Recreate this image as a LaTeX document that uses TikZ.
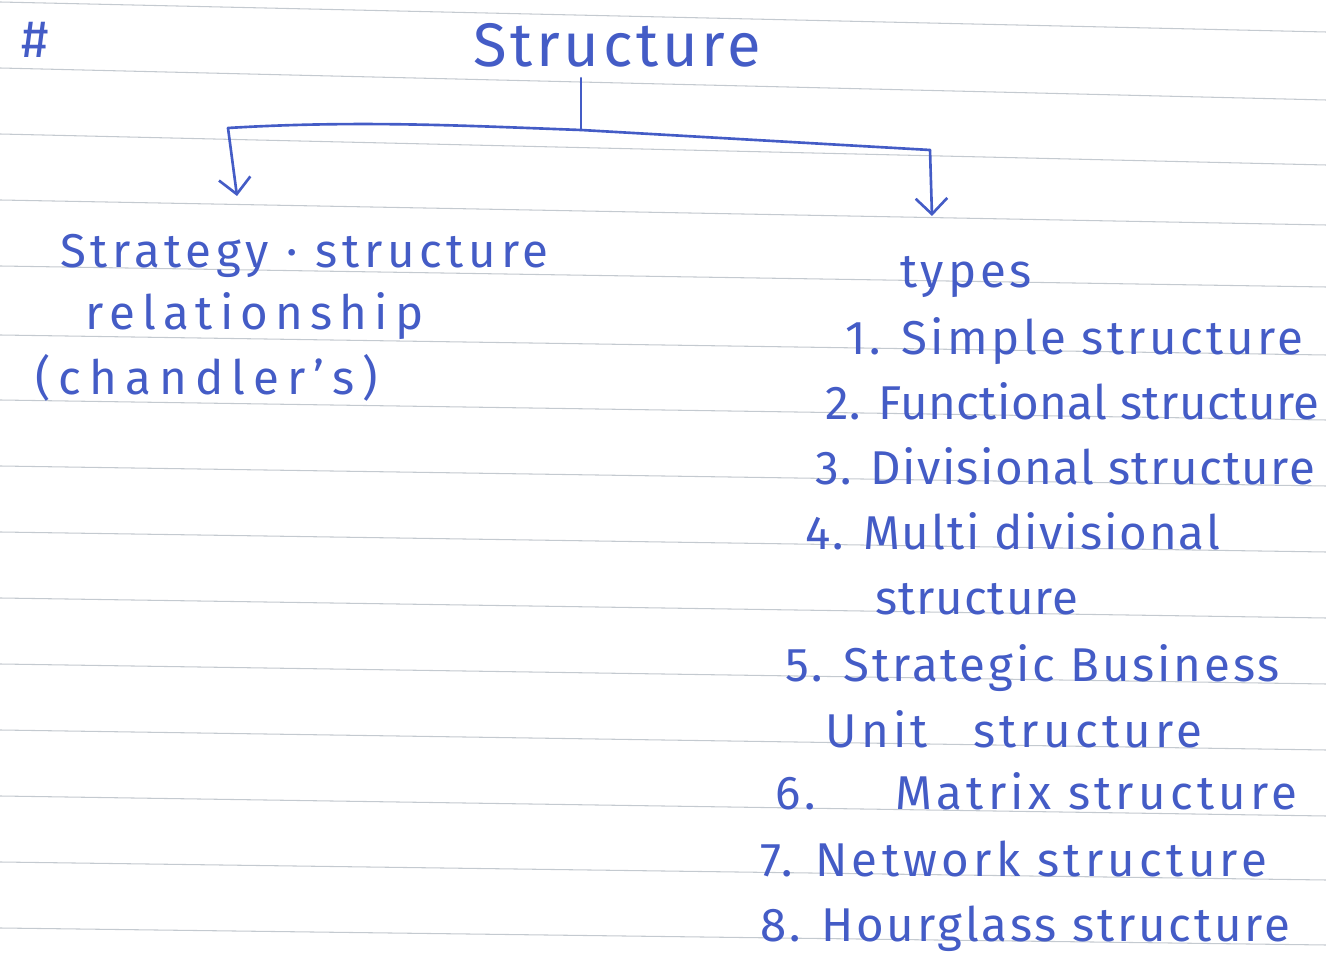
\documentclass[tikz,border=0pt]{standalone}
\usepackage{fontspec}
\setmainfont{Fira Sans}
\usepackage{xcolor}
\usetikzlibrary{arrows.meta}
\definecolor{ink}{RGB}{68,92,198}
\definecolor{ruling}{RGB}{196,202,208}
% handwriting is wider than the font: track each line a little
\newcommand{\jotsize}[1]{\fontsize{27}{32}\selectfont\addfontfeatures{LetterSpace=#1}}

\begin{document}
\begin{tikzpicture}[x=0.02cm,y=-0.02cm,
  rule/.style={ruling,line width=0.6pt},
  pen/.style={ink,line width=1.5pt,line cap=round},
  jot/.style={ink,anchor=base west,inner sep=0pt,font=\jotsize{0}}]
  \useasboundingbox (0,0) rectangle (1326,955);
  % ruled paper
  \foreach \yl/\yr in {2/32,68/100,134/165,200/225,266/287,335/355,400/420,466/486,
      532/552,598/618,664/684,730/750,796/816,862/880,928/945}
    \draw[rule] (0,\yl) -- (1326,\yr);
  % heading
  \node[jot,anchor=center,font=\fontsize{30}{34}\selectfont] (hash) at (35,40) {\#};
  \node[jot,anchor=base,font={\fontsize{35}{40}\selectfont\addfontfeatures{LetterSpace=6}}] (title) at (617,67) {Structure};
  % branches
  \coordinate (jn) at (581,130);
  \coordinate (lc) at (228,128);
  \coordinate (rc) at (930,150);
  \coordinate (ltip) at (237,196);
  \coordinate (rtip) at (932,216);
  \draw[pen] (title.south -| jn) ++(0,10) -- (jn);
  \draw[pen] (lc) .. controls (360,120) and (470,126) .. (jn) -- (rc);
  \draw[pen,-{Straight Barb[length=9pt,width=18pt]}] (lc) -- (ltip);
  \draw[pen,-{Straight Barb[length=9pt,width=18pt]}] (rc) -- (rtip);
  % left branch
  \node[jot,font=\jotsize{10}] (strat) at (60,268) {Strategy · structure};
  \node[jot,font=\jotsize{15}] (rel) at (85,330) {relationship};
  \node[jot,font=\jotsize{17}] (chand) at (35,395) {(chandler's)};
  % right branch
  \node[jot,font=\jotsize{8}] (types) at (900,288) {types};
  \node[jot,font=\jotsize{7}] (t1) at (845,355) {1. Simple structure};
  \node[jot,font=\jotsize{1}] (t2) at (825,420) {2. Functional structure};
  \node[jot,font=\jotsize{3}] (t3) at (815,485) {3. Divisional structure};
  \node[jot,font=\jotsize{4}] (t4) at (805,550) {4. Multi divisional};
  \node[jot,font=\jotsize{2}] (t4b) at (875,615) {structure};
  \node[jot,font=\jotsize{6}] (t5) at (785,682) {5. Strategic Business};
  \node[jot,font=\jotsize{9}] (t5b) at (825,748) {Unit\hspace{0.6em} structure};
  \node[jot,font=\jotsize{9}] (t6) at (775,810) {6.\hspace{1.2em} Matrix structure};
  \node[jot,font=\jotsize{9}] (t7) at (760,877) {7. Network structure};
  \node[jot,font=\jotsize{6}] (t8) at (760,942) {8. Hourglass structure};
\end{tikzpicture}
\end{document}
